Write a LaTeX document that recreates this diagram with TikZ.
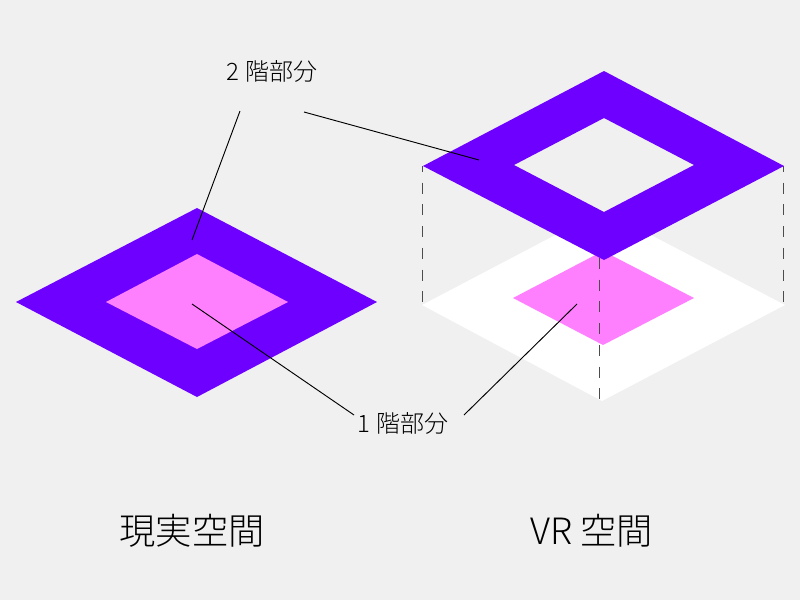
\documentclass[tikz,border=0pt]{standalone}
\usepackage{fontspec}
\setmainfont{Noto Sans CJK JP Light}
\definecolor{bgc}{HTML}{F0F0F0}
\definecolor{ringc}{HTML}{6E00FF}
\definecolor{pinkc}{HTML}{FF80FF}
\tikzset{
  px/.style={x=0.75pt,y=-0.75pt},
  leader/.style={draw=black,line width=0.7pt},
  guide/.style={draw=black!70,line width=0.75pt,dash pattern=on 8.2pt off 8.1pt},
  label/.style={font=\fontsize{18pt}{20pt}\selectfont,inner sep=0pt,text=black},
  title/.style={font=\fontsize{27.2pt}{30pt}\selectfont,inner sep=0pt,text=black},
}
\begin{document}
\begin{tikzpicture}[px]
\useasboundingbox (0,0) rectangle (800,600);
\fill[bgc] (0,0) rectangle (800,600);
% left stack
\fill[ringc] (16,302) -- (197,208) -- (377,302) -- (197,397) -- cycle;
\fill[pinkc] (106,302) -- (197,254) -- (288,302) -- (197,349) -- cycle;
% VR lower floor
\fill[white] (422,305) -- (603,210) -- (785,305) -- (602,401) -- cycle;
\fill[pinkc] (513,298) -- (603,251) -- (694,298) -- (603,345) -- cycle;
% guides
\coordinate (gl1) at (422,161); \coordinate (gl2) at (422,305);
\coordinate (gr1) at (783.5,161); \coordinate (gr2) at (783.5,305);
\coordinate (gc1) at (599.5,258); \coordinate (gc2) at (599.5,401);
\draw[guide] (gl1) -- (gl2);
\draw[guide] (gr1) -- (gr2);
\draw[guide] (gc1) -- (gc2);
% VR upper floor
\fill[bgc] (423,161) rectangle (421,166);
\fill[bgc] (782,161) rectangle (785,166);
\fill[ringc,even odd rule] (423,166) -- (604,71) -- (784,166) -- (604,260) -- cycle
  (514,165) -- (604,118) -- (694,165) -- (604,212) -- cycle;
% labels
\node[label] (two) at (272,71) {2 階部分};
\node[label] (one) at (403,423) {1 階部分};
\node[title] (real) at (192,531) {現実空間};
\node[title] (vr) at (591.5,531) {VR 空間};
% leaders
\coordinate (a1) at (240,111); \coordinate (a2) at (192,240);
\coordinate (b1) at (304,112); \coordinate (b2) at (479,160);
\coordinate (c1) at (354,415); \coordinate (c2) at (192,304);
\coordinate (d1) at (464,415); \coordinate (d2) at (577,304);
\draw[leader] (a1) -- (a2);
\draw[leader] (b1) -- (b2);
\draw[leader] (c1) -- (c2);
\draw[leader] (d1) -- (d2);
\end{tikzpicture}
\end{document}
